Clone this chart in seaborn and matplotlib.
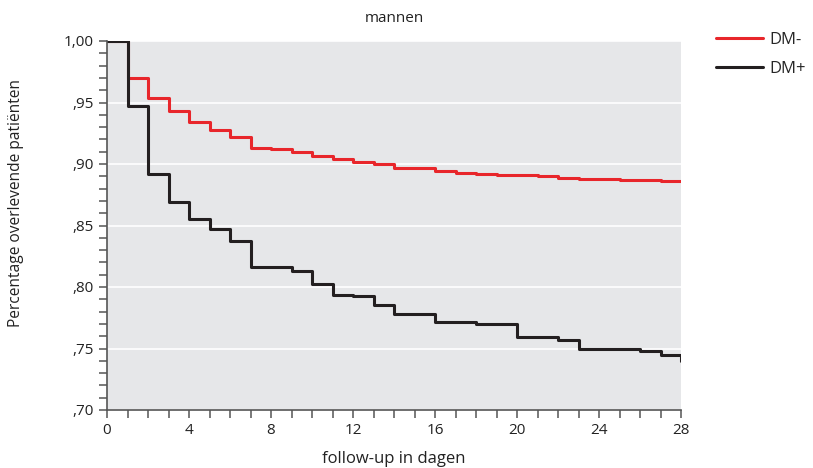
import matplotlib
matplotlib.use("Agg")
import matplotlib.pyplot as plt
import seaborn as sns
import pandas as pd
from matplotlib.ticker import MultipleLocator, FuncFormatter
from matplotlib.lines import Line2D

# Data (Kaplan-Meier step values)
dm_min_days = [0, 1, 2, 3, 4, 5, 6, 7, 8, 9, 10, 11, 12, 13, 14, 16, 17, 18, 19, 21, 22, 23, 25, 27, 28]
dm_min_surv = [1.000, 0.970, 0.954, 0.943, 0.934, 0.928, 0.922, 0.913, 0.9125, 0.910, 0.9065, 0.904,
               0.902, 0.900, 0.897, 0.894, 0.893, 0.892, 0.891, 0.890, 0.889, 0.8875, 0.8868, 0.886, 0.886]
dm_plus_days = [0, 1, 2, 3, 4, 5, 6, 7, 8, 9, 10, 11, 12, 13, 14, 16, 18, 20, 22, 23, 26, 27, 28]
dm_plus_surv = [1.000, 0.947, 0.892, 0.8695, 0.855, 0.847, 0.837, 0.8165, 0.816, 0.8127, 0.8024, 0.7934,
                0.793, 0.7856, 0.778, 0.7717, 0.770, 0.7595, 0.7573, 0.7494, 0.7476, 0.7449, 0.740]
groups = ["DM-", "DM+"]
colors = {"DM-": "#e8262b", "DM+": "#231f20"}

df = pd.concat([
    pd.DataFrame({"dag": dm_min_days, "overleving": dm_min_surv, "groep": groups[0]}),
    pd.DataFrame({"dag": dm_plus_days, "overleving": dm_plus_surv, "groep": groups[1]}),
], ignore_index=True)

sns.set_theme(style="ticks")
plt.rcParams["font.family"] = ["Open Sans", "DejaVu Sans"]

fig = plt.figure(figsize=(8.13, 4.68), dpi=100)
ax = fig.add_axes([107 / 813, 1 - 410 / 468, (681 - 107) / 813, (410 - 41) / 468])
ax.set_facecolor("#e6e7e9")

sns.lineplot(data=df, x="dag", y="overleving", hue="groep", hue_order=groups,
             palette=colors, drawstyle="steps-post", linewidth=2.2, estimator=None,
             sort=True, ax=ax, legend=False)

ax.set_xlim(0, 28)
ax.set_ylim(0.70, 1.00)
ax.xaxis.set_major_locator(MultipleLocator(4))
ax.xaxis.set_minor_locator(MultipleLocator(1))
ax.yaxis.set_major_locator(MultipleLocator(0.05))
ax.yaxis.set_minor_locator(MultipleLocator(0.01))


def yfmt(v, pos):
    s = f"{v:.2f}".replace(".", ",")
    if s.startswith("0"):
        s = s[1:]
    return s


ax.yaxis.set_major_formatter(FuncFormatter(yfmt))
ax.grid(axis="y", which="major", color="white", linewidth=1.2)
ax.grid(axis="x", visible=False)
ax.set_axisbelow(True)

for side in ["top", "right"]:
    ax.spines[side].set_visible(False)
for side in ["left", "bottom"]:
    ax.spines[side].set_color("#555555")
    ax.spines[side].set_linewidth(1.2)

ax.tick_params(axis="both", which="major", length=6, width=1.1, color="#555555",
               labelsize=11, labelcolor="#222222", direction="out")
ax.tick_params(axis="both", which="minor", length=6, width=1.1, color="#555555", direction="out")

ax.set_xlabel("follow-up in dagen", fontsize=12, color="#222222", labelpad=9)
ax.set_ylabel("Percentage overlevende patiënten", fontsize=11.2, color="#222222")
ax.yaxis.set_label_coords((24 - 107) / 574, 1 - (203 - 41) / 369)
ax.set_title("mannen", fontsize=11, color="#222222", pad=14)

handles = [Line2D([0], [0], color=colors[g], linewidth=2.2) for g in groups]
fig.legend(handles, groups, loc="upper left", bbox_to_anchor=(716 / 813, 1 - 32 / 468),
           frameon=False, fontsize=12, handlelength=2.8, labelspacing=0.8,
           handletextpad=0.4, borderpad=0, borderaxespad=0)

fig.savefig("out.png", dpi=100)
